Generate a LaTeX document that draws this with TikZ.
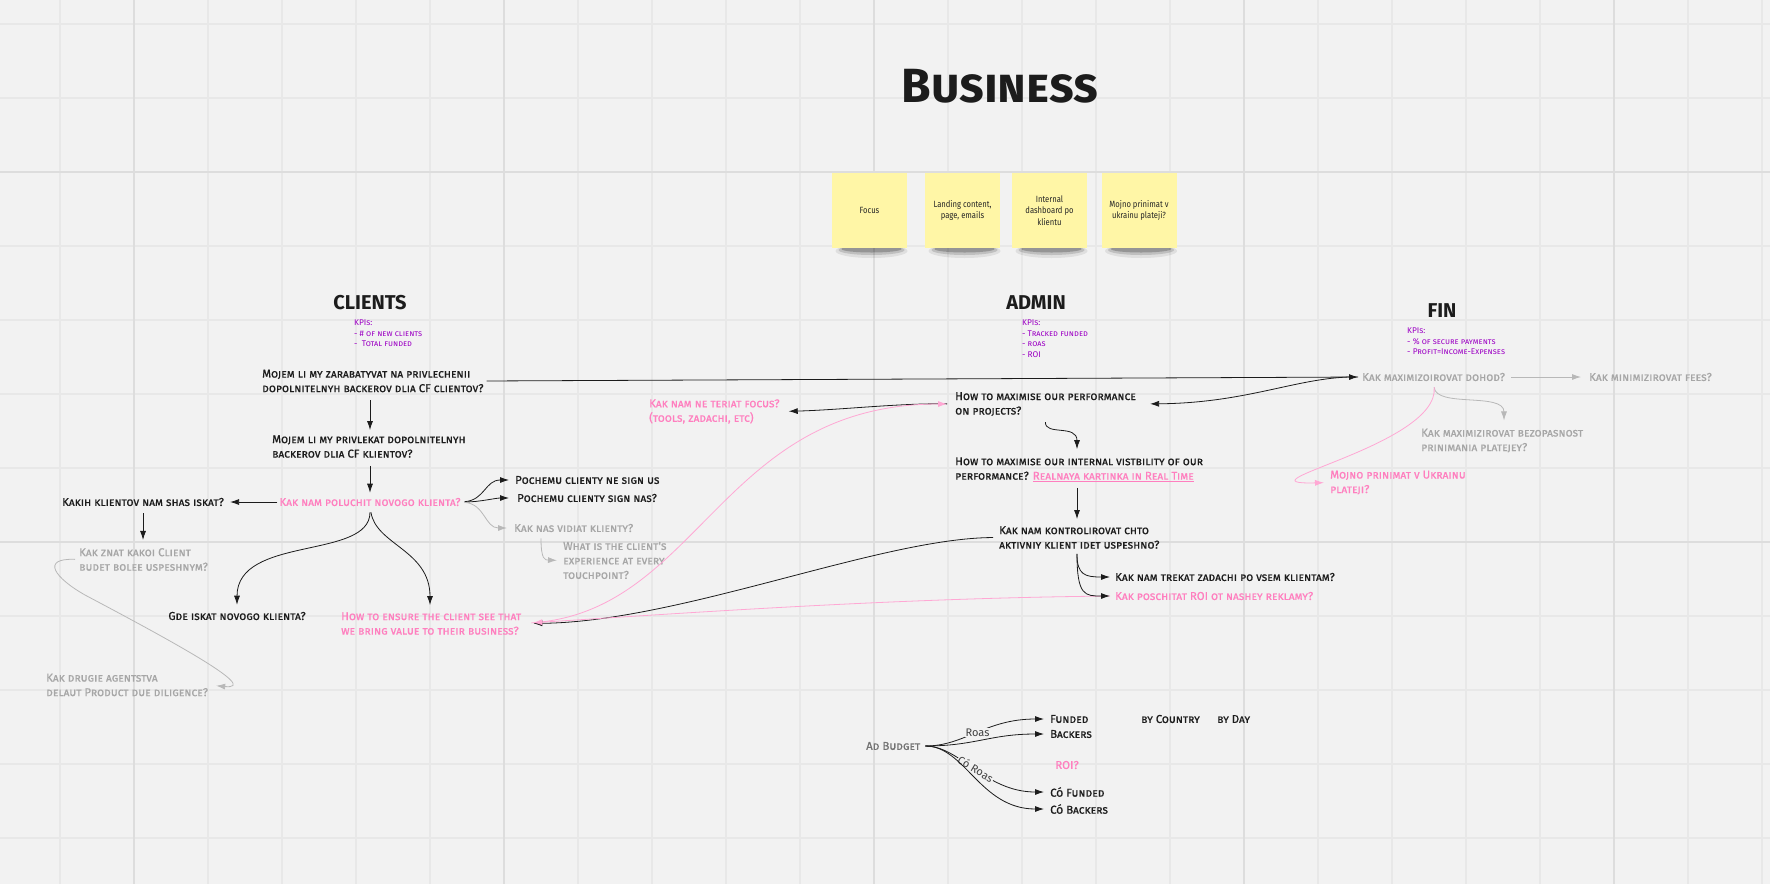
\documentclass[tikz,border=0pt]{standalone}
\usepackage{fontspec}
\setmainfont{Fira Sans}
\newfontfamily\hand[Letters=SmallCaps,FakeBold=0.8]{Fira Sans}
\newfontfamily\handk[Letters=SmallCaps]{Fira Sans}
\newfontfamily\stickyf[FakeStretch=0.85]{Fira Sans}
\newfontfamily\plainf{Fira Sans}
\usetikzlibrary{arrows.meta}
\definecolor{bg}{HTML}{F2F2F2}
\definecolor{gthinc}{HTML}{E8E8E8}
\definecolor{gthickc}{HTML}{DDDDDD}
\definecolor{ink}{HTML}{1C1C1C}
\definecolor{pinkt}{HTML}{FF7FBF}
\definecolor{pinkl}{HTML}{FFA8D4}
\definecolor{greyt}{HTML}{A6A6A6}
\definecolor{greyl}{HTML}{B8B8B8}
\definecolor{purp}{HTML}{9C00C4}
\definecolor{notec}{HTML}{FFF6A6}
\tikzset{
  gthin/.style={draw=gthinc, line width=1.2pt},
  gthick/.style={draw=gthickc, line width=2.4pt},
  txt/.style={font=\hand\fontsize{11.4}{14.5}\selectfont, inner sep=0pt, align=left, anchor=west, text=ink},
  pk/.style={txt, text=pinkt},
  gy/.style={txt, text=greyt},
  hdr/.style={font=\handk\bfseries\fontsize{20}{20}\selectfont, text=ink, inner sep=0pt},
  kpi/.style={font=\handk\fontsize{8.3}{10.6}\selectfont, text=purp, align=left, anchor=west, inner sep=0pt},
  notebox/.style={fill=notec, minimum width=75pt, minimum height=75pt, inner sep=2pt, align=center, font=\stickyf\fontsize{9}{11.5}\selectfont, text=black!85},
  arr/.style={draw=ink, line width=0.8pt, -{Latex[length=9pt,width=6pt]}},
  parr/.style={draw=pinkl, line width=0.8pt, -{Latex[length=9pt,width=6pt]}},
  garr/.style={draw=greyl, line width=0.8pt, -{Latex[length=9pt,width=6pt]}},
  lbl/.style={font=\plainf\fontsize{11}{11}\selectfont, text=black!75, fill=bg, inner sep=1pt}
}
\begin{document}
\begin{tikzpicture}[x=1pt,y=-1pt]
\fill[bg] (0,0) rectangle (1770,884);
\useasboundingbox (0,0) rectangle (1770,884);
% grid
\foreach \i in {0,...,23} \draw[gthin] ({60+74*\i},0) -- ({60+74*\i},884);
\foreach \j in {0,...,11} \draw[gthin] (0,{24+74*\j}) -- (1770,{24+74*\j});
\foreach \i in {0,...,4} \draw[gthick] ({134+370*\i},0) -- ({134+370*\i},884);
\foreach \j in {0,1} \draw[gthick] (0,{172+370*\j}) -- (1770,{172+370*\j});

% title
\node[font=\handk\bfseries\fontsize{48}{48}\selectfont, text=ink, inner sep=0pt] (title) at (1000,86) {Business};

% sticky note shadows
\foreach \cx in {869.5,962.5,1049.5,1139} {
  \fill[black, opacity=0.08] (\cx+2,251) ellipse (36 and 7);
  \fill[black, opacity=0.14] (\cx+2,250) ellipse (33 and 5);
  \fill[black, opacity=0.22] (\cx+2,249) ellipse (30 and 3.5);
}
\node[notebox] (s1) at (869.5,210.5) {Focus};
\node[notebox] (s2) at (962.5,210.5) {Landing content,\\page, emails};
\node[notebox] (s3) at (1049.5,210.5) {Internal\\dashboard po\\klientu};
\node[notebox] (s4) at (1139,210.5) {Mojno prinimat v\\ukrainu plateji?};

% headers
\node[hdr] (hc) at (370,303) {CLIENTS};
\node[hdr] (ha) at (1036,303) {ADMIN};
\node[hdr] (hf) at (1442,311) {FIN};
\node[kpi] (kc) at (354,333.5) {KPIs:\\- \# of new clients\\-\ \ Total funded};
\node[kpi] (ka) at (1022,338.5) {KPIs:\\- Tracked funded\\- roas\\- ROI};
\node[kpi] (kf) at (1407,341.5) {KPIs:\\- \% of secure payments\\- Profit=Income-Expenses};

% clients
\node[txt] (c1) at (262,381) {Mojem li my zarabatyvat na privlechenii\\dopolnitelnyh backerov dlia CF clientov?};
\node[txt] (c2) at (272,446.5) {Mojem li my privlekat dopolnitelnyh\\backerov dlia CF klientov?};
\node[pk, anchor=center] (c3) at (370,502) {Kak nam poluchit novogo klienta?};
\node[txt] (c4) at (62,502) {Kakih klientov nam shas iskat?};
\node[gy] (c5) at (79,559.5) {Kak znat kakoi Client\\budet bolee uspeshnym?};
\node[gy] (c6) at (46,685) {Kak drugie agentstva\\delaut Product due diligence?};
\node[txt, anchor=center] (c7) at (237,616) {Gde iskat novogo klienta?};
\node[pk] (c8) at (341,623.5) {How to ensure the client see that\\we bring value to their business?};
\node[txt] (c9) at (515,480) {Pochemu clienty ne sign us};
\node[txt] (c10) at (517,498) {Pochemu clienty sign nas?};
\node[gy] (c11) at (514,528) {Kak nas vidiat klienty?};
\node[gy] (c12) at (563,560.5) {What is the client's\\experience at every\\touchpoint?};

% admin
\node[txt] (a1) at (955,404) {How to maximise our performance\\on projects?};
\node[pk] (a2) at (649,411.5) {Kak nam ne teriat focus?\\(tools, zadachi, etc)};
\node[txt] (a3) at (955,469.5) {How to maximise our internal vistbility of our\\performance? \textcolor{pinkt}{\underline{Realnaya kartinka in Real Time}}};
\node[txt] (a4) at (999,537.5) {Kak nam kontrolirovat chto\\aktivniy klient idet uspeshno?};
\node[txt] (a5) at (1115,577) {Kak nam trekat zadachi po vsem klientam?};
\node[pk] (a6) at (1115,596) {Kak poschitat ROI ot nashey reklamy?};

% fin
\node[gy] (f1) at (1362,377) {Kak maximizoirovat dohod?};
\node[gy] (f2) at (1589,377) {Kak minimizirovat fees?};
\node[gy] (f3) at (1421,440.5) {Kak maximizirovat bezopasnost\\prinimania platejey?};
\node[pk] (f4) at (1330,482.5) {Mojno prinimat v Ukrainu\\plateji?};

% ad budget
\node[txt, text=black!55] (b0) at (866,746) {Ad Budget};
\node[txt] (b1) at (1050,719) {Funded};
\node[txt] (b2) at (1050,734) {Backers};
\node[txt] (b3) at (1050,792) {Có Funded};
\node[txt] (b4) at (1050,809) {Có Backers};
\node[pk, anchor=center] (b5) at (1067,765) {ROI?};
\node[txt] (b6) at (1141,719) {by Country};
\node[txt] (b7) at (1217,719) {by Day};

% ---- connectors ----
\draw[arr, shorten <=8pt, shorten >=5pt] (c1.south -| c3.center) -- (c2.north -| c3.center);
\draw[arr, shorten <=8pt, shorten >=5pt] (c2.south -| c3.center) -- (c3.north);
\draw[arr, shorten <=2pt, shorten >=6pt] (c3.west) -- (c4.east);
\draw[arr, shorten <=7pt, shorten >=8pt] (c4.south) -- (c5.north -| c4.south);
\draw[draw=greyl, line width=0.8pt, -{Latex[length=9pt,width=6pt]}, shorten <=4pt, shorten >=8pt]
  (c5.west) .. controls (40,558) and (55,578) .. (85,595) .. controls (170,640) and (262,690) .. (c6.east);
\draw[arr, shorten <=6pt, shorten >=7pt] (c3.south) .. controls (370,560) and (237,535) .. (c7.north);
\draw[arr, shorten <=6pt, shorten >=7pt] (c3.south) .. controls (376,545) and (430,550) .. (c8.north -| 430,0);
\draw[arr, shorten <=4pt, shorten >=6pt] (c3.east) .. controls (485,500) and (485,480) .. (c9.west);
\draw[arr, shorten <=4pt, shorten >=8pt] (c3.east) .. controls (480,502) and (495,498) .. (c10.west);
\draw[garr, shorten <=4pt, shorten >=7pt] (c3.east) .. controls (485,504) and (485,528) .. (c11.west);
\draw[garr, shorten <=6pt, shorten >=6pt] (c11.south west -| 541,0) .. controls (541,560) and (545,560) .. (c12.west);

% long line to FIN
\draw[arr, shorten <=3pt, shorten >=4pt] (c1.east) -- (f1.west);
\draw[arr, shorten <=4pt, shorten >=14pt] (f1.west) .. controls (1300,376) and (1250,403) .. (a1.east);
\draw[arr, shorten <=8pt, shorten >=9pt] (a1.west) .. controls (900,403) and (840,410) .. (a2.east);
\draw[parr, shorten <=10pt, shorten >=8pt] (c8.east) .. controls (700,612) and (720,404) .. (a1.west);
\draw[arr, shorten <=6pt, shorten >=12pt] (a4.west) .. controls (880,538) and (680,622) .. (c8.east);
\draw[parr, shorten <=5pt, shorten >=12pt] (a6.west) .. controls (900,598) and (700,612) .. (c8.east);
\draw[arr, shorten <=6pt, shorten >=8pt] (a1.south) .. controls (1045,436) and (1077,424) .. (a3.north -| 1077,0);
\draw[arr, shorten <=6pt, shorten >=7pt] (a3.south -| 1077,0) -- (a4.north -| 1077,0);
\draw[arr, shorten <=5pt, shorten >=5pt] (a4.south -| 1077,0) .. controls (1077,575) and (1085,577) .. (a5.west);
\draw[arr, shorten <=5pt, shorten >=5pt] (a4.south -| 1077,0) .. controls (1077,596) and (1085,596) .. (a6.west);

% fin connectors
\draw[garr, shorten <=6pt, shorten >=8pt] (f1.east) -- (f2.west);
\draw[garr, shorten <=6pt, shorten >=8pt] (f1.south) .. controls (1436,408) and (1504,392) .. (f3.north -| 1504,0);
\draw[parr, shorten <=6pt, shorten >=6pt] (f1.south) .. controls (1440,445) and (1230,485) .. (f4.west);

% ad budget
\draw[arr, shorten <=5pt, shorten >=6pt] (b0.east) .. controls (965,746) and (985,719) .. node[lbl, pos=0.5] (roas) {Roas} (b1.west);
\draw[arr, shorten <=5pt, shorten >=6pt] (b0.east) .. controls (975,746) and (990,734) .. (b2.west);
\draw[arr, shorten <=5pt, shorten >=6pt] (b0.east) .. controls (960,746) and (985,792) .. node[lbl, pos=0.5, sloped] (coroas) {Có Roas} (b3.west);
\draw[arr, shorten <=5pt, shorten >=6pt] (b0.east) .. controls (965,746) and (980,809) .. (b4.west);
\end{tikzpicture}
\end{document}
